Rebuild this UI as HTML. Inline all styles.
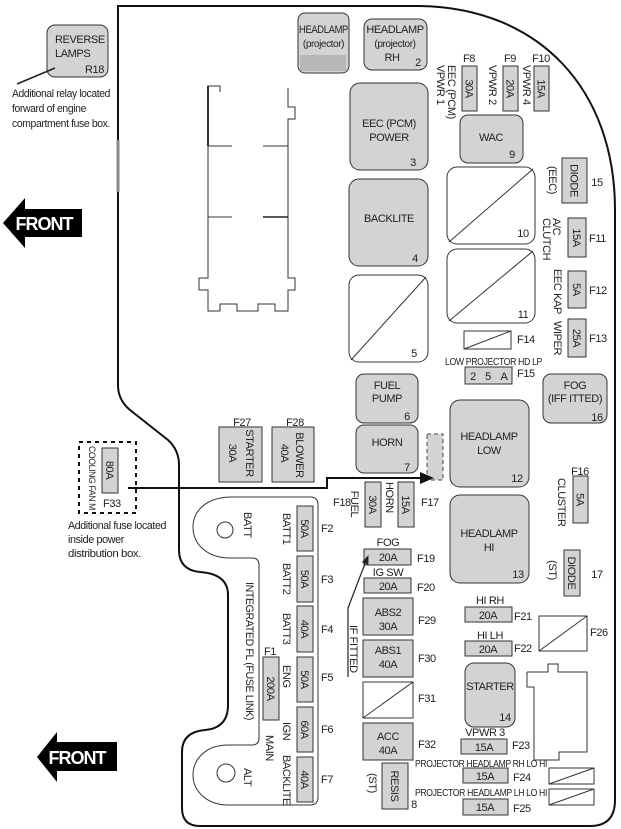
<!DOCTYPE html>
<html><head><meta charset="utf-8"><style>
html,body{margin:0;padding:0;background:#fff;}
svg{display:block;}
text{font-family:"Liberation Sans",Arial,sans-serif;font-size:11px;letter-spacing:-0.4px;fill:#222;}
.g{fill:#d3d3d3;stroke:#333;stroke-width:1;}
.w{fill:#fff;stroke:#333;stroke-width:1;}
.ln{fill:none;stroke:#333;stroke-width:1;}
.s{font-size:10px;}
.xs{font-size:9px;}
.fr{font-size:18px;font-weight:bold;fill:#fff;letter-spacing:-1px;}
</style></head><body>
<svg width="621" height="829" viewBox="0 0 621 829" xmlns="http://www.w3.org/2000/svg">
<!-- outer boundary -->
<path d="M118 6 L118 385 Q118 400 130 410 L168 440 Q179 450 179 465 L179 550 Q179 570 200 572 Q228 574 228 595 L228 705 Q228 728 205 730 Q182 732 182 752 L182 808 Q182 826 200 826 L590 826 Q615 826 615 800 L615 210 C615 90 540 8 420 6 Z" fill="none" stroke="#111" stroke-width="2"/>
<line x1="118" y1="140" x2="118" y2="192" stroke="#888" stroke-width="3"/>

<!-- top connector outline -->
<path d="M220 92 L220 86 L208 86 L208 278 L199 278 L199 290 L208 290 L208 311 L220 311 L220 304 L237 304 L237 311 L258 311 L258 304 L275 304 L275 311 L288 311 L288 290 L295 290 L295 278 L288 278 L288 119 L295 119 L295 107 L288 107 L288 88" class="ln"/>
<line x1="208" y1="86" x2="208" y2="146" stroke="#333" stroke-width="2"/>
<line x1="208" y1="146" x2="232" y2="146" class="ln"/><line x1="263" y1="146" x2="288" y2="146" class="ln"/>
<line x1="208" y1="217" x2="232" y2="217" class="ln"/><line x1="263" y1="217" x2="288" y2="217" stroke="#222" stroke-width="1.6"/>

<!-- R18 -->
<rect x="47" y="25" width="61" height="52" rx="8" class="g"/>
<text x="55" y="43">REVERSE</text><text x="55" y="57">LAMPS</text><text x="85" y="73">R18</text>
<line x1="55" y1="68" x2="17" y2="84" stroke="#222" stroke-width="1.6"/>
<text x="12" y="97" textLength="98" lengthAdjust="spacingAndGlyphs">Additional relay located</text>
<text x="12" y="112" textLength="74" lengthAdjust="spacingAndGlyphs">forward of engine</text>
<text x="12" y="127" textLength="98" lengthAdjust="spacingAndGlyphs">compartment fuse box.</text>

<!-- FRONT arrows -->
<polygon points="3,223 25,198 25,209 82,209 82,237 25,237 25,248" fill="#000"/>
<text x="44" y="230" text-anchor="middle" class="fr">FRONT</text>
<polygon points="37,757 57,732 57,742 117,742 117,771 57,771 57,782" fill="#000"/>
<text x="77" y="764" text-anchor="middle" class="fr">FRONT</text>

<!-- headlamp projector boxes -->
<rect x="298" y="13" width="51" height="60" rx="7" class="g"/>
<rect x="300" y="55" width="46" height="16" fill="#a5a5a5" opacity="0.6"/>
<text x="323.5" y="33" text-anchor="middle" textLength="49" lengthAdjust="spacingAndGlyphs">HEADLAMP</text>
<text x="323.5" y="47" text-anchor="middle" class="s">(projector)</text>
<rect x="364" y="19" width="63" height="51" rx="8" class="g"/>
<text x="395" y="33" text-anchor="middle">HEADLAMP</text>
<text x="395" y="47" text-anchor="middle" class="s">(projector)</text>
<text x="392" y="61" text-anchor="middle">RH</text><text x="418" y="66" text-anchor="middle">2</text>

<!-- F8 F9 F10 -->
<text x="469" y="62" text-anchor="middle">F8</text><text x="510" y="62" text-anchor="middle">F9</text><text x="541" y="62" text-anchor="middle">F10</text>
<rect x="462" y="66" width="15" height="45" class="g"/><rect x="503" y="66" width="15" height="45" class="g"/><rect x="534" y="66" width="15" height="45" class="g"/>
<text transform="rotate(90 469.5 88.5)" x="469.5" y="88.5" dy="0.35em" text-anchor="middle">30A</text>
<text transform="rotate(90 510.5 88.5)" x="510.5" y="88.5" dy="0.35em" text-anchor="middle">20A</text>
<text transform="rotate(90 541.5 88.5)" x="541.5" y="88.5" dy="0.35em" text-anchor="middle">15A</text>
<text transform="rotate(90 452 65)" x="452" y="65" dy="0.35em">EEC (PCM)</text>
<text transform="rotate(90 441 65)" x="441" y="65" dy="0.35em">VPWR 1</text>
<text transform="rotate(90 493 65)" x="493" y="65" dy="0.35em">VPWR 2</text>
<text transform="rotate(90 527 65)" x="527" y="65" dy="0.35em">VPWR 4</text>

<!-- relays column -->
<rect x="350" y="83" width="78" height="87" rx="10" class="g"/>
<text x="389" y="127" text-anchor="middle">EEC (PCM)</text><text x="389" y="141" text-anchor="middle">POWER</text><text x="413" y="166" text-anchor="middle">3</text>
<rect x="460" y="115" width="63" height="48" rx="8" class="g"/>
<text x="491" y="141" text-anchor="middle">WAC</text><text x="512" y="158" text-anchor="middle">9</text>
<rect x="349" y="179" width="79" height="87" rx="10" class="g"/>
<text x="389" y="222" text-anchor="middle">BACKLITE</text><text x="415" y="262" text-anchor="middle">4</text>
<rect x="349" y="275" width="79" height="87" rx="10" class="w"/>
<line x1="351" y1="360" x2="426" y2="277" class="ln"/>
<text x="414" y="357" text-anchor="middle">5</text>
<rect x="447" y="167" width="88" height="77" rx="10" class="w"/>
<line x1="449" y1="242" x2="533" y2="169" class="ln"/>
<text x="523" y="237" text-anchor="middle">10</text>
<rect x="447" y="249" width="88" height="74" rx="10" class="w"/>
<line x1="449" y1="321" x2="533" y2="251" class="ln"/>
<text x="523" y="318" text-anchor="middle">11</text>

<!-- right column fuses -->
<rect x="562" y="158" width="25" height="45" class="g"/>
<text transform="rotate(90 574.5 180.5)" x="574.5" y="180.5" dy="0.35em" text-anchor="middle">DIODE</text>
<text transform="rotate(90 553 180)" x="553" y="180" dy="0.35em" text-anchor="middle">(EEC)</text>
<text x="597" y="186" text-anchor="middle">15</text>
<rect x="568" y="218" width="18" height="39" class="g"/>
<text transform="rotate(90 577 237.5)" x="577" y="237.5" dy="0.35em" text-anchor="middle">15A</text>
<text transform="rotate(90 557 218)" x="557" y="218" dy="0.35em">A/C</text>
<text transform="rotate(90 547 218)" x="547" y="218" dy="0.35em">CLUTCH</text>
<text x="589" y="242">F11</text>
<rect x="568" y="271" width="18" height="37" class="g"/>
<text transform="rotate(90 577 289.5)" x="577" y="289.5" dy="0.35em" text-anchor="middle">5A</text>
<text transform="rotate(90 558 269)" x="558" y="269" dy="0.35em">EEC KAP</text>
<text x="589" y="294">F12</text>
<rect x="568" y="319" width="18" height="38" class="g"/>
<text transform="rotate(90 577 338)" x="577" y="338" dy="0.35em" text-anchor="middle">25A</text>
<text transform="rotate(90 558 321)" x="558" y="321" dy="0.35em">WIPER</text>
<text x="589" y="342">F13</text>

<!-- F14 F15 -->
<rect x="464" y="331" width="47" height="18" class="w"/>
<line x1="464" y1="349" x2="511" y2="331" class="ln"/>
<text x="517" y="343">F14</text>
<text x="445" y="365" class="s" textLength="97" lengthAdjust="spacingAndGlyphs">LOW PROJECTOR HD LP</text>
<rect x="465" y="367" width="47" height="17" class="g"/>
<text x="473" y="380" text-anchor="middle">2</text><text x="488" y="380" text-anchor="middle">5</text><text x="504" y="380" text-anchor="middle">A</text>
<text x="517" y="377">F15</text>

<!-- FUEL PUMP, HORN -->
<rect x="356" y="374" width="62" height="49" rx="8" class="g"/>
<text x="387" y="389" text-anchor="middle">FUEL</text><text x="387" y="402" text-anchor="middle">PUMP</text><text x="407" y="420" text-anchor="middle">6</text>
<rect x="356" y="425" width="62" height="48" rx="8" class="g"/>
<text x="387" y="446" text-anchor="middle">HORN</text><text x="407" y="471" text-anchor="middle">7</text>
<rect x="427" y="434" width="16" height="46" fill="#d3d3d3" stroke="#444" stroke-width="1" stroke-dasharray="4 3"/>

<!-- FOG 16 -->
<rect x="543" y="374" width="64" height="49" rx="8" class="g"/>
<text x="575" y="389" text-anchor="middle">FOG</text><text x="575" y="402" text-anchor="middle">(IFF ITTED)</text><text x="597" y="421" text-anchor="middle">16</text>

<!-- HEADLAMP LOW/HI -->
<rect x="450" y="400" width="79" height="87" rx="10" class="g"/>
<text x="489" y="440" text-anchor="middle">HEADLAMP</text><text x="489" y="454" text-anchor="middle">LOW</text><text x="517" y="482" text-anchor="middle">12</text>
<rect x="450" y="495" width="79" height="88" rx="10" class="g"/>
<text x="489" y="537" text-anchor="middle">HEADLAMP</text><text x="489" y="551" text-anchor="middle">HI</text><text x="518" y="578" text-anchor="middle">13</text>

<!-- F16, DIODE 17 -->
<text x="580" y="475" text-anchor="middle">F16</text>
<rect x="573" y="476" width="15" height="47" class="g"/>
<text transform="rotate(90 580.5 499.5)" x="580.5" y="499.5" dy="0.35em" text-anchor="middle">5A</text>
<text transform="rotate(90 562 478)" x="562" y="478" dy="0.35em">CLUSTER</text>
<rect x="564" y="550" width="16" height="46" class="g"/>
<text transform="rotate(90 572 573)" x="572" y="573" dy="0.35em" text-anchor="middle">DIODE</text>
<text transform="rotate(90 553 570)" x="553" y="570" dy="0.35em" text-anchor="middle">(ST)</text>
<text x="597" y="578" text-anchor="middle">17</text>

<!-- F27 F28 -->
<text x="242" y="426" text-anchor="middle">F27</text><text x="295" y="426" text-anchor="middle">F28</text>
<rect x="219" y="427" width="43" height="55" class="g"/>
<text transform="rotate(90 250 453)" x="250" y="453" dy="0.35em" text-anchor="middle">STARTER</text>
<text transform="rotate(90 233 453)" x="233" y="453" dy="0.35em" text-anchor="middle">30A</text>
<rect x="272" y="427" width="42" height="55" class="g"/>
<text transform="rotate(90 300 455)" x="300" y="455" dy="0.35em" text-anchor="middle">BLOWER</text>
<text transform="rotate(90 285 453)" x="285" y="453" dy="0.35em" text-anchor="middle">40A</text>

<!-- F33 -->
<rect x="79" y="442" width="57" height="71" fill="none" stroke="#111" stroke-width="2" stroke-dasharray="4 4"/>
<rect x="102" y="448" width="16" height="45" class="g"/>
<text transform="rotate(90 110 470)" x="110" y="470" dy="0.35em" text-anchor="middle">80A</text>
<text transform="rotate(90 92 446)" x="92" y="446" dy="0.35em" class="xs" textLength="64" lengthAdjust="spacingAndGlyphs">COOLING FAN M</text>
<text x="103" y="507">F33</text>
<text x="68" y="529" textLength="98" lengthAdjust="spacingAndGlyphs">Additional fuse located</text>
<text x="68" y="543" textLength="56" lengthAdjust="spacingAndGlyphs">inside power</text>
<text x="68" y="557" textLength="73" lengthAdjust="spacingAndGlyphs">distribution box.</text>

<!-- long arrow -->
<polyline points="128,488 327,488 327,478 422,478" fill="none" stroke="#111" stroke-width="2"/>
<polygon points="434,478 420,472 420,484" fill="#111"/>

<!-- F18 F17 -->
<rect x="365" y="482" width="16" height="45" class="g"/>
<text transform="rotate(90 373 504.5)" x="373" y="504.5" dy="0.35em" text-anchor="middle">30A</text>
<text transform="rotate(90 355 504)" x="355" y="504" dy="0.35em" text-anchor="middle">FUEL</text>
<text x="333" y="506">F18</text>
<rect x="398" y="482" width="16" height="45" class="g"/>
<text transform="rotate(90 406 504.5)" x="406" y="504.5" dy="0.35em" text-anchor="middle">15A</text>
<text transform="rotate(90 390 482)" x="390" y="482" dy="0.35em">HORN</text>
<text x="421" y="506">F17</text>

<!-- F19 F20 -->
<text x="388" y="546" text-anchor="middle">FOG</text>
<rect x="364" y="549" width="47" height="16" class="g"/>
<text x="388" y="561" text-anchor="middle">20A</text><text x="417" y="562">F19</text>
<text x="388" y="576" text-anchor="middle">IG SW</text>
<rect x="364" y="578" width="47" height="15" class="g"/>
<text x="388" y="590" text-anchor="middle">20A</text><text x="417" y="591">F20</text>
<!-- IF FITTED arrow -->
<polyline points="348,677 348,608 366,561" fill="none" stroke="#222" stroke-width="1.2"/>
<polygon points="368.5,555 368.4,564.8 361.8,562.2" fill="#222"/>
<text transform="rotate(90 354 625)" x="354" y="625" dy="0.35em">IF FITTED</text>

<!-- F29-F32 -->
<rect x="363" y="598" width="50" height="37" class="g"/>
<text x="388" y="616" text-anchor="middle">ABS2</text><text x="388" y="630" text-anchor="middle">30A</text><text x="418" y="624">F29</text>
<rect x="363" y="640" width="50" height="37" class="g"/>
<text x="388" y="654" text-anchor="middle">ABS1</text><text x="388" y="668" text-anchor="middle">40A</text><text x="418" y="662">F30</text>
<rect x="363" y="682" width="50" height="36" class="w"/>
<line x1="363" y1="718" x2="413" y2="682" class="ln"/>
<text x="418" y="702">F31</text>
<rect x="363" y="723" width="50" height="37" class="g"/>
<text x="388" y="740" text-anchor="middle">ACC</text><text x="388" y="754" text-anchor="middle">40A</text><text x="418" y="748">F32</text>
<rect x="382" y="763" width="26" height="46" class="g"/>
<text transform="rotate(90 395 786)" x="395" y="786" dy="0.35em" text-anchor="middle">RESIS</text>
<text transform="rotate(90 373 783)" x="373" y="783" dy="0.35em" text-anchor="middle">(ST)</text>
<text x="414" y="808" text-anchor="middle">8</text>

<!-- HI RH / HI LH -->
<text x="490" y="604" text-anchor="middle">HI RH</text>
<rect x="465" y="607" width="47" height="15" class="g"/>
<text x="488" y="619" text-anchor="middle">20A</text><text x="514" y="620">F21</text>
<text x="490" y="639" text-anchor="middle">HI LH</text>
<rect x="465" y="641" width="47" height="15" class="g"/>
<text x="488" y="653" text-anchor="middle">20A</text><text x="514" y="652">F22</text>
<rect x="539" y="616" width="48" height="35" class="w"/>
<line x1="539" y1="651" x2="587" y2="616" class="ln"/>
<text x="590" y="636">F26</text>

<!-- STARTER 14 -->
<rect x="465" y="663" width="50" height="64" rx="9" class="g"/>
<text x="490" y="690" text-anchor="middle">STARTER</text><text x="505" y="721" text-anchor="middle">14</text>

<!-- right connector outline -->
<path d="M527 672 L548 672 L548 664 L558 664 L558 672 L587 672 L587 752 L559 752 L559 760 L534 760 L534 752 M534 752 L534 687 L527 687 L527 672" class="ln"/>

<!-- F23 F24 F25 -->
<text x="485" y="736" text-anchor="middle">VPWR 3</text>
<rect x="461" y="739" width="46" height="15" class="g"/>
<text x="484" y="751" text-anchor="middle">15A</text><text x="512" y="749">F23</text>
<text x="415" y="767" class="s" textLength="132" lengthAdjust="spacingAndGlyphs">PROJECTOR HEADLAMP RH LO HI</text>
<rect x="463" y="768" width="45" height="15" class="g"/>
<text x="485" y="780" text-anchor="middle">15A</text><text x="513" y="781">F24</text>
<text x="415" y="796" class="s" textLength="132" lengthAdjust="spacingAndGlyphs">PROJECTOR HEADLAMP LH LO HI</text>
<rect x="463" y="799" width="45" height="16" class="g"/>
<text x="485" y="811" text-anchor="middle">15A</text><text x="513" y="812">F25</text>
<rect x="549" y="768" width="45" height="16" class="w"/>
<line x1="549" y1="784" x2="594" y2="768" class="ln"/>
<rect x="549" y="789" width="45" height="16" class="w"/>
<line x1="549" y1="805" x2="594" y2="789" class="ln"/>

<!-- integrated fuse link -->
<path d="M318 505 Q318 497 310 497 L232 497 C205 497 193 512 193 527 C193 545 208 558 230 558 L252 558 Q259 558 259 565 L259 738 Q259 745 252 745 L228 745 C205 745 193 760 193 775 C193 792 208 805 228 805 L310 805 Q318 805 318 797 Z" class="ln"/>
<circle cx="225" cy="530" r="8" class="ln"/>
<circle cx="226" cy="773" r="9" class="ln"/>
<text transform="rotate(90 248 512)" x="248" y="512" dy="0.35em">BATT</text>
<text transform="rotate(90 248 768)" x="248" y="768" dy="0.35em">ALT</text>
<text transform="rotate(90 250 582)" x="250" y="582" dy="0.35em" textLength="138" lengthAdjust="spacingAndGlyphs">INTEGRATED FL (FUSE LINK)</text>

<rect x="297" y="506" width="16" height="45" class="g"/>
<rect x="297" y="556" width="16" height="46" class="g"/>
<rect x="297" y="606" width="16" height="46" class="g"/>
<rect x="297" y="657" width="16" height="45" class="g"/>
<rect x="297" y="707" width="16" height="45" class="g"/>
<rect x="297" y="757" width="16" height="45" class="g"/>
<text transform="rotate(90 305 528.5)" x="305" y="528.5" dy="0.35em" text-anchor="middle">50A</text>
<text transform="rotate(90 305 579)" x="305" y="579" dy="0.35em" text-anchor="middle">50A</text>
<text transform="rotate(90 305 629)" x="305" y="629" dy="0.35em" text-anchor="middle">40A</text>
<text transform="rotate(90 305 679.5)" x="305" y="679.5" dy="0.35em" text-anchor="middle">50A</text>
<text transform="rotate(90 305 729.5)" x="305" y="729.5" dy="0.35em" text-anchor="middle">60A</text>
<text transform="rotate(90 305 779.5)" x="305" y="779.5" dy="0.35em" text-anchor="middle">40A</text>
<text transform="rotate(90 287 513)" x="287" y="513" dy="0.35em">BATT1</text>
<text transform="rotate(90 287 563)" x="287" y="563" dy="0.35em">BATT2</text>
<text transform="rotate(90 287 613)" x="287" y="613" dy="0.35em">BATT3</text>
<text transform="rotate(90 287 665)" x="287" y="665" dy="0.35em">ENG</text>
<text transform="rotate(90 287 722)" x="287" y="722" dy="0.35em">IGN</text>
<text transform="rotate(90 287 755)" x="287" y="755" dy="0.35em">BACKLITE</text>
<text transform="rotate(90 270 735)" x="270" y="735" dy="0.35em">MAIN</text>
<text x="321" y="532">F2</text><text x="321" y="583">F3</text><text x="321" y="633">F4</text>
<text x="321" y="681">F5</text><text x="321" y="733">F6</text><text x="321" y="783">F7</text>
<text x="270" y="655" text-anchor="middle">F1</text>
<rect x="263" y="657" width="16" height="63" class="g"/>
<text transform="rotate(90 271 688.5)" x="271" y="688.5" dy="0.35em" text-anchor="middle">200A</text>
</svg>
</body></html>
